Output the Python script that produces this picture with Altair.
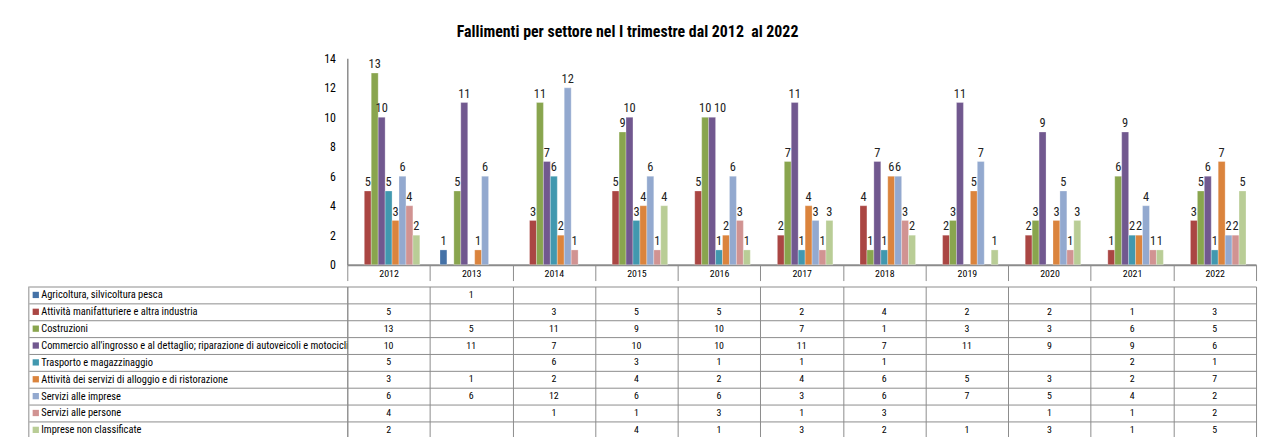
import altair as alt
import pandas as pd

anni = ["2012", "2013", "2014", "2015", "2016", "2017", "2018", "2019", "2020", "2021", "2022"]
settori = [
    "Agricoltura, silvicoltura pesca",
    "Attività manifatturiere e altra industria",
    "Costruzioni",
    "Commercio all'ingrosso e al dettaglio; riparazione di autoveicoli e motocicli",
    "Trasporto e magazzinaggio",
    "Attività dei servizi di alloggio e di ristorazione",
    "Servizi alle imprese",
    "Servizi alle persone",
    "Imprese non classificate",
]
colori = ["#4572A7", "#AA4643", "#89A54E", "#71588F", "#4198AF",
          "#DB843D", "#93A9CF", "#D19392", "#B9CD96"]

agricoltura = [None, 1, None, None, None, None, None, None, None, None, None]
manifatturiere = [5, None, 3, 5, 5, 2, 4, 2, 2, 1, 3]
costruzioni = [13, 5, 11, 9, 10, 7, 1, 3, 3, 6, 5]
commercio = [10, 11, 7, 10, 10, 11, 7, 11, 9, 9, 6]
trasporto = [5, None, 6, 3, 1, 1, 1, None, None, 2, 1]
alloggio = [3, 1, 2, 4, 2, 4, 6, 5, 3, 2, 7]
servizi_imprese = [6, 6, 12, 6, 6, 3, 6, 7, 5, 4, 2]
servizi_persone = [4, None, 1, 1, 3, 1, 3, None, 1, 1, 2]
non_classificate = [2, None, None, 4, 1, 3, 2, 1, 3, 1, 5]

serie = [agricoltura, manifatturiere, costruzioni, commercio, trasporto,
         alloggio, servizi_imprese, servizi_persone, non_classificate]

rows = []
for nome, valori in zip(settori, serie):
    for anno, v in zip(anni, valori):
        if v is not None:
            rows.append({"anno": anno, "settore": nome, "valore": v})
df = pd.DataFrame(rows)

FONT = "Roboto Condensed, DejaVu Sans Condensed, Roboto, sans-serif"
GRAY = "#8c8c8c"
PLOT_W = 916
PLOT_H = 208
ROW_H = 17
LEFT_COL = 321

color_scale = alt.Scale(domain=settori, range=colori)
x_scale = alt.Scale(domain=anni, paddingInner=0, paddingOuter=0)
# empty slots at both ends leave the gap between year groups
xoff_scale = alt.Scale(domain=[" "] + settori + ["  "], paddingInner=0, paddingOuter=0.45)

# ---------- bar chart ----------
base = alt.Chart(df)
x_bar = alt.X(
    "anno:N", sort=anni, scale=x_scale,
    axis=alt.Axis(title=None, labelAngle=0, labelFont=FONT, labelFontSize=10,
                  labelColor="#000", labelPadding=-12.5, tickBand="extent",
                  tickSize=16, tickColor=GRAY, tickWidth=1, domainColor=GRAY,
                  domainWidth=2, minExtent=15.5, maxExtent=15.5, grid=False),
)
y_bar = alt.Y(
    "valore:Q", scale=alt.Scale(domain=[0, 14], nice=False),
    axis=alt.Axis(title=None, values=list(range(0, 15, 2)), grid=False, ticks=False,
                  domainColor=GRAY, domainWidth=1.5, labelFont=FONT,
                  labelFontSize=12, labelColor="#000", labelPadding=12),
)
bars = base.mark_bar(stroke="white", strokeWidth=0.4, strokeOpacity=0.7).encode(
    x=x_bar,
    xOffset=alt.XOffset("settore:N", scale=xoff_scale),
    y=y_bar,
    color=alt.Color("settore:N", scale=color_scale, legend=None),
)
# label of the 2016 "Commercio" bar is nudged right, as in the original
spostata = (alt.datum.anno == "2016") & (alt.datum.settore == settori[3])
etichette = base.mark_text(dy=-9, font=FONT, fontSize=12.5, color="#222").encode(
    x=x_bar,
    xOffset=alt.XOffset("settore:N", scale=xoff_scale),
    y=y_bar,
    text="valore:Q",
).transform_filter(~spostata)
etichetta_spostata = base.mark_text(dy=-9, dx=8, font=FONT, fontSize=12.5, color="#222").encode(
    x=x_bar,
    xOffset=alt.XOffset("settore:N", scale=xoff_scale),
    y=y_bar,
    text="valore:Q",
).transform_filter(spostata)
grafico = alt.layer(bars, etichette, etichetta_spostata).properties(width=PLOT_W, height=PLOT_H)

# ---------- data table ----------
y_tab = alt.Y(
    "settore:N", sort=settori,
    scale=alt.Scale(domain=settori, paddingInner=0, paddingOuter=0),
    axis=alt.Axis(title=None, grid=True, gridColor=GRAY, gridWidth=1, tickBand="extent",
                  tickSize=LEFT_COL, tickColor=GRAY, tickWidth=1, labelAlign="left",
                  labelBaseline="middle", labelPadding=-12, labelLimit=340,
                  labelOverlap=False, labelFont=FONT, labelFontSize=10.5,
                  labelColor="#000", domain=True, domainColor=GRAY),
)
x_tab = alt.X(
    "anno:N", sort=anni, scale=x_scale,
    axis=alt.Axis(title=None, labels=False, ticks=False, domain=False, grid=True,
                  tickBand="extent", gridColor=GRAY, gridWidth=1),
)
valori_tab = alt.Chart(df).mark_text(font=FONT, fontSize=10, color="#000").encode(
    x=x_tab, y=y_tab, text="valore:Q"
)
legenda_df = pd.DataFrame({"settore": settori})
quadrati = alt.Chart(legenda_df).mark_square(size=40, opacity=1).encode(
    x=alt.value(-314),
    y=y_tab,
    color=alt.Color("settore:N", scale=color_scale, legend=None),
)
bordo = alt.Chart(legenda_df.head(1)).mark_rule(color=GRAY, strokeWidth=1).encode(
    x=alt.value(-LEFT_COL), y=alt.value(0), y2=alt.value(ROW_H * len(settori))
)
tabella = alt.layer(valori_tab, quadrati, bordo).properties(
    width=PLOT_W, height=ROW_H * len(settori)
)

chart = alt.vconcat(grafico, tabella, spacing=0).properties(
    title=alt.Title("Fallimenti per settore nel I trimestre dal 2012\u00a0 al 2022",
                    font=FONT, fontSize=16, fontWeight="bold", anchor="middle",
                    offset=13, dx=-15, color="#000"),
    padding={"left": 20, "top": 14, "right": 4, "bottom": 0},
).configure_view(stroke=None).configure_concat(spacing=0)

chart.save("out.html", embed_options={"renderer": "svg", "actions": False})
